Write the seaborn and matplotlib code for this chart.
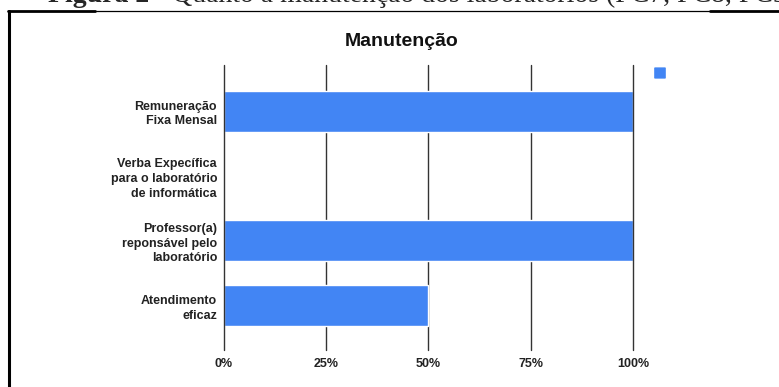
import matplotlib
matplotlib.use("Agg")
import matplotlib.pyplot as plt
from matplotlib.patches import FancyBboxPatch
from matplotlib.lines import Line2D
from matplotlib.ticker import PercentFormatter
import seaborn as sns
import pandas as pd

# Data
categories = [
    "Remuneração\nFixa Mensal",
    "Verba Expecífica\npara o laboratório\nde informática",
    "Professor(a)\nreponsável pelo\nlaboratório",
    "Atendimento\neficaz",
]
values = [100, 0, 100, 50]
x_ticks = [0, 25, 50, 75, 100]
chart_title = "Manutenção"
caption_bold = "Figura 2"
caption_rest = " - Quanto à manutenção dos laboratórios (PC7, PC8, PC9)"

BLUE = "#4285F4"
W, H = 779, 387

sns.set_theme(style="white")
plt.rcParams["font.family"] = ["Liberation Sans", "DejaVu Sans"]

fig = plt.figure(figsize=(W / 100, H / 100), dpi=100)
fig.patch.set_facecolor("white")


def fx(px):
    return px / W


def fy(py):
    return 1 - py / H


ax = fig.add_axes([fx(224), fy(350), fx(633) - fx(224), fy(65) - fy(350)])

df = pd.DataFrame({"categoria": categories, "valor": values})
sns.barplot(data=df, x="valor", y="categoria", orient="h", color=BLUE,
            width=0.63, saturation=1, ax=ax, zorder=3)

ax.set_xlim(0, 100)
ax.set_ylim(3.68, -0.71)
ax.set_xticks(x_ticks)
ax.xaxis.set_major_formatter(PercentFormatter(decimals=0))
ax.set_xlabel("")
ax.set_ylabel("")
for s in ax.spines.values():
    s.set_visible(False)
for xv in x_ticks:
    ax.axvline(xv, color="#333333", lw=1.0, zorder=4 if xv in (0, 100) else 2,
               clip_on=False)
ax.tick_params(axis="x", length=0, pad=6, labelsize=9, colors="#222222")
ax.tick_params(axis="y", length=0, pad=5, labelsize=9, colors="#222222")
for lab in ax.get_xticklabels() + ax.get_yticklabels():
    lab.set_fontweight("bold")
for lab in ax.get_yticklabels():
    lab.set_linespacing(1.3)
    lab.set_horizontalalignment("right")

# Title
fig.text(fx(402), fy(41), chart_title, ha="center", va="center",
         fontsize=14, fontweight="bold", color="#111111")

# Legend swatch (no label)
fig.add_artist(FancyBboxPatch((fx(655), fy(78)), fx(10), (fy(68) - fy(78)),
                              boxstyle="round,pad=0.0005", transform=fig.transFigure,
                              facecolor=BLUE, edgecolor=BLUE, lw=0.5))

# Frame around the chart
fig.add_artist(Line2D([fx(9), fx(9)], [fy(11), fy(392)], color="black", lw=2.2,
                      transform=fig.transFigure))
fig.add_artist(Line2D([fx(8), fx(95)], [fy(11), fy(11)], color="black", lw=2.0,
                      transform=fig.transFigure))
fig.add_artist(Line2D([fx(95), fx(710)], [fy(10.5), fy(10.5)], color="black", lw=0.9,
                      transform=fig.transFigure))
fig.add_artist(Line2D([fx(710), fx(785)], [fy(11), fy(11)], color="black", lw=2.0,
                      transform=fig.transFigure))

# Caption above the frame
serif = ["Liberation Serif", "DejaVu Serif"]
t1 = fig.text(fx(48), fy(2.5), caption_bold, ha="left", va="baseline",
              fontsize=20, fontweight="bold", family=serif)
fig.canvas.draw()
bb = t1.get_window_extent(renderer=fig.canvas.get_renderer())
fig.text(bb.x1 / W, fy(2.5), caption_rest, ha="left", va="baseline",
         fontsize=20, family=serif)

fig.savefig("out.png", dpi=100, facecolor="white")
